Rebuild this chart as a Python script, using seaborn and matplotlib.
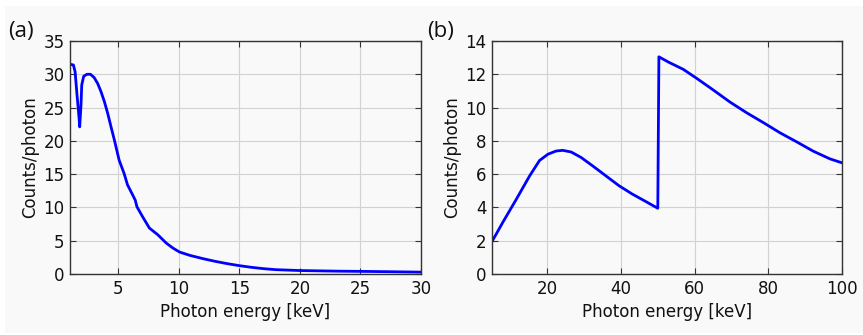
import matplotlib
matplotlib.use("Agg")
import matplotlib.pyplot as plt
from matplotlib.patches import Rectangle
import numpy as np
import pandas as pd
import seaborn as sns

# Panel (a): low-energy detector response
energy_a = [1.0, 1.28, 1.42, 1.58, 1.75, 1.8, 1.91, 1.97, 2.13, 2.4, 2.69, 3.0,
            3.29, 3.56, 3.84, 4.12, 4.39, 4.67, 5.06, 5.47, 5.75, 6.17, 6.39,
            6.53, 7.0, 7.56, 8.25, 8.95, 9.5, 10.05, 10.9, 12.0, 13.0, 14.0,
            15.0, 16.0, 17.0, 18.0, 20.0, 23.0, 25.8, 30.0]
counts_a = [31.5, 31.4, 30.4, 26.9, 23.4, 22.1, 25.4, 28.4, 29.7, 30.0, 30.0, 29.5,
            28.6, 27.4, 25.9, 24.1, 22.1, 20.1, 17.1, 15.1, 13.4, 11.9, 11.1,
            10.1, 8.6, 6.9, 5.9, 4.65, 3.9, 3.3, 2.8, 2.3, 1.9, 1.55,
            1.25, 1.0, 0.8, 0.65, 0.52, 0.43, 0.38, 0.28]

# Panel (b): high-energy detector response with absorption edge
energy_b = [5.0, 8.0, 11.6, 15.2, 17.9, 20.2, 22.4, 24.2, 26.5, 29.2, 32.3, 35.9,
            39.5, 43.1, 46.7, 50.0, 50.3, 53.0, 56.9, 60.6, 65.1, 69.6, 74.1,
            78.7, 83.2, 87.7, 92.2, 96.7, 100.0]
counts_b = [1.95, 3.13, 4.49, 5.89, 6.82, 7.2, 7.39, 7.43, 7.33, 7.0, 6.5, 5.9,
            5.3, 4.8, 4.36, 3.95, 13.05, 12.72, 12.3, 11.75, 11.05, 10.33, 9.69,
            9.09, 8.48, 7.94, 7.38, 6.92, 6.68]

df_a = pd.DataFrame({"energy": energy_a, "counts": counts_a})
df_b = pd.DataFrame({"energy": energy_b, "counts": counts_b})

sns.set_theme(style="ticks")
bg = "#f9f9f9"
plt.rcParams.update({
    "font.family": ["DejaVu Sans"],
    "font.size": 12,
    "axes.facecolor": bg,
    "axes.edgecolor": "#333333",
    "axes.linewidth": 1.0,
    "axes.labelcolor": "#111111",
    "xtick.color": "#333333",
    "ytick.color": "#333333",
    "xtick.labelcolor": "#111111",
    "ytick.labelcolor": "#111111",
    "xtick.labelsize": 12,
    "ytick.labelsize": 12,
    "axes.labelsize": 12,
})

W, H = 863, 335
fig = plt.figure(figsize=(W / 100, H / 100), dpi=100, facecolor="white")
fig.patches.append(Rectangle((5 / W, 2 / H), (W - 5) / W, (H - 8) / H,
                             transform=fig.transFigure, facecolor=bg,
                             edgecolor="none", zorder=-10))

bottom = (H - 274) / H
height = 233 / H
ax_a = fig.add_axes([70 / W, bottom, 351 / W, height])
ax_b = fig.add_axes([492 / W, bottom, 350 / W, height])

panels = [
    (ax_a, df_a, (1, 30), np.arange(5, 31, 5), (0, 35), np.arange(0, 36, 5), "(a)", 8),
    (ax_b, df_b, (5, 100), np.arange(20, 101, 20), (0, 14), np.arange(0, 15, 2), "(b)", 427),
]

for ax, df, xlim, xt, ylim, yt, tag, tag_x in panels:
    sns.lineplot(data=df, x="energy", y="counts", ax=ax, color="#0000ff",
                 linewidth=2.0, sort=False, estimator=None)
    ax.set_xlim(*xlim)
    ax.set_ylim(*ylim)
    ax.set_xticks(xt)
    ax.set_yticks(yt)
    ax.grid(True, color="#d2d2d2", linewidth=0.8)
    ax.set_axisbelow(True)
    ax.tick_params(direction="in", top=True, right=True, length=4, width=0.8, pad=4)
    ax.set_xlabel("Photon energy [keV]", labelpad=4)
    ax.set_ylabel("Counts/photon", labelpad=3)
    for s in ax.spines.values():
        s.set_visible(True)
    fig.text(tag_x / W, 1 - 31 / H, tag, fontsize=16, family=["Open Sans", "DejaVu Sans"],
             va="center", ha="left", color="#111111")

fig.savefig("out.png", dpi=100, facecolor=fig.get_facecolor())
